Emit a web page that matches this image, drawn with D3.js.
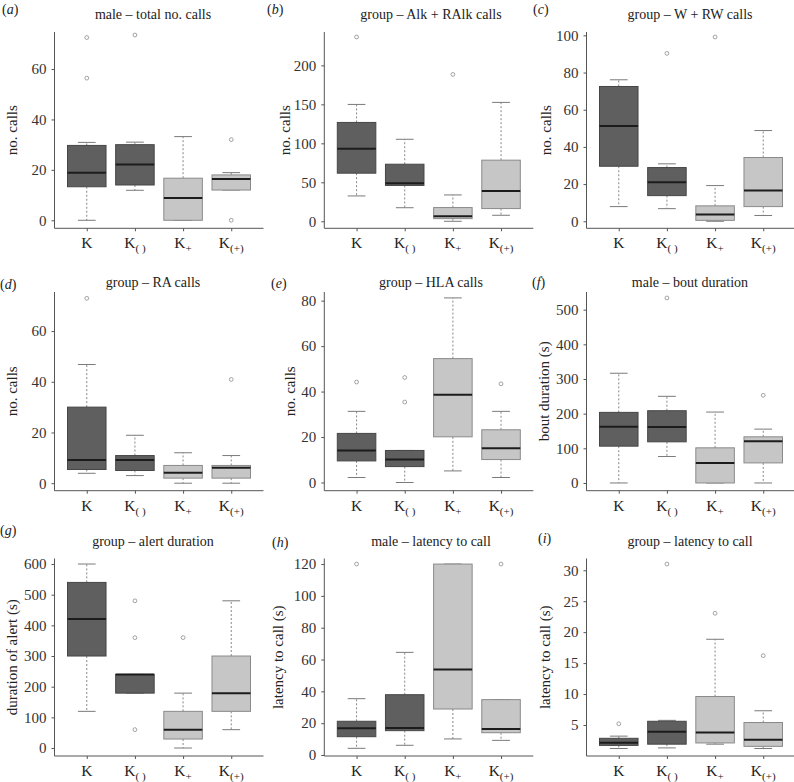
<!DOCTYPE html>
<html><head><meta charset="utf-8">
<script src="https://cdn.jsdelivr.net/npm/d3@7"></script>
</head><body style="margin:0;background:#fff"><svg id="c" width="794" height="782" font-family="Liberation Serif, Tinos, Times New Roman, serif" style="display:block;font-family:'Liberation Serif','Tinos','Times New Roman',serif"></svg>
<script>
// ---------- data ----------
const categories = ["K", "K()", "K+", "K(+)"];
const catBase = ["K", "K", "K", "K"];
const catSub = ["", "( )", "+", "(+)"];

const panelLetters = ["a", "b", "c", "d", "e", "f", "g", "h", "i"];
const panelTitles = [
  "male \u2013 total no. calls", "group \u2013 Alk + RAlk calls", "group \u2013 W + RW calls",
  "group \u2013 RA calls", "group \u2013 HLA calls", "male \u2013 bout duration",
  "group \u2013 alert duration", "male \u2013 latency to call", "group \u2013 latency to call"];
const yAxisLabels = ["no. calls", "no. calls", "no. calls", "no. calls", "no. calls",
  "bout duration (s)", "duration of alert (s)", "latency to call (s)", "latency to call (s)"];
const yTicks = [
  [0, 20, 40, 60], [0, 50, 100, 150, 200], [0, 20, 40, 60, 80, 100],
  [0, 20, 40, 60], [0, 20, 40, 60, 80], [0, 100, 200, 300, 400, 500],
  [0, 100, 200, 300, 400, 500, 600], [0, 20, 40, 60, 80, 100, 120], [5, 10, 15, 20, 25, 30]];
const yDomains = [
  [-3.18, 74.7], [-9.0, 242.8], [-3.77, 101.8],
  [-2.96, 75.4], [-3.6, 83.8], [-22.3, 551],
  [-26, 618], [-0.63, 123.5], [-0.01, 31.9]];

// box stats per category: [lower whisker, Q1, median, Q3, upper whisker]
const statsA = [[0, 13.3, 18.9, 29.7, 30.9], [11.9, 14, 22.1, 30, 31], [0, 0, 8.8, 16.7, 33.2], [12, 12, 16.4, 18, 18.9]];
const outliersA = [[56.4, 72.5], [73.5], [], [32, 0]];
const statsB = [[32.5, 61.7, 92.9, 126.8, 149.9], [17.4, 46, 48.8, 73.2, 105.2], [0, 3.4, 6.4, 17.6, 33.8], [7.7, 16.3, 39, 78.4, 152.5]];
const outliersB = [[236.4], [], [188.4], []];
const statsC = [[7.9, 29.6, 51.2, 72.5, 76.1], [6.8, 13.8, 21, 28.9, 30.9], [0, 0.5, 3.6, 8.3, 19.2], [3.1, 7.9, 16.5, 34.3, 48.8]];
const outliersC = [[], [90.3], [99.1], []];
const statsD = [[3.9, 5.4, 9.1, 30, 46.8], [3, 5, 9.1, 10.9, 18.9], [0, 2, 4.1, 7, 12], [0, 2, 6.1, 7, 10.9]];
const outliersD = [[72.9], [], [], [40.9]];
const statsE = [[2.2, 9.5, 14.1, 21.6, 31.3], [0, 7, 10.1, 14.1, 14.1], [5.1, 20.1, 38.6, 54.5, 81.2], [2.2, 10.1, 15.1, 23.2, 31.3]];
const outliersE = [[44.2], [35.4, 46.2], [], [43.4]];
const statsF = [[0, 106.2, 162.2, 203.7, 316.6], [76.3, 118.7, 161.2, 208.5, 250], [0, 0, 57.9, 101.4, 204.6], [0, 57.9, 120.7, 133.2, 155.4]];
const outliersF = [[], [533.8], [], [252.9]];
const statsG = [[119.6, 300, 420.7, 540, 600], [179, 179, 240, 240, 240], [0, 29.3, 59.8, 119.6, 179], [59.8, 119.6, 179, 300, 480]];
const outliersG = [[], [60, 360, 480], [360], []];
const statsH = [[4.2, 11.5, 16.8, 21.2, 35.4], [6.1, 15.3, 17, 37.9, 64.5], [10.1, 28.9, 53.8, 120, 120], [9.2, 14, 16.3, 34.8, 34.8]];
const outliersH = [[120], [], [], [120]];
const statsI = [[1.2, 1.7, 2.14, 2.85, 3.2], [1.3, 1.9, 3.9, 5.6, 5.75], [1.9, 2.1, 3.8, 9.6, 18.85], [1.2, 1.55, 2.6, 5.4, 7.3]];
const outliersI = [[5.2], [31], [23.05], [16.2]];

const allStats = [statsA, statsB, statsC, statsD, statsE, statsF, statsG, statsH, statsI];
const allOutliers = [outliersA, outliersB, outliersC, outliersD, outliersE, outliersF, outliersG, outliersH, outliersI];

// ---------- style / layout ----------
const boxFills = ["#5f5f5f", "#5f5f5f", "#c6c6c6", "#c6c6c6"];
const boxStrokes = ["#464646", "#464646", "#8a8a8a", "#8a8a8a"];
const FONT_ATTR = "Liberation Serif, Tinos, Times New Roman, serif";
const FONT_CSS = '"Liberation Serif", "Tinos", "Times New Roman", serif';
const colLeft = [54.5, 324.3, 586.5];
const plotW = 209;
const rowTop = [32, 292, 558.5];
const rowBottom = [228.3, 490.7, 756];
const titleCx = [153, 431, 690];
const titleBase = [18.5, 286.7, 545.5];
const letterPos = [[2, 14], [267, 14], [533, 14], [0, 289], [271, 288], [532, 287], [0, 535], [272, 547], [538, 543]];
const yLabOff = [-42.5, -40, -40.3, -42.6, -35, -43, -42.6, -46.6, -42];

const svg = d3.select("#c");
const axisCol = "#555";
function serif(sel) { return sel.attr("font-family", FONT_ATTR).style("font-family", FONT_CSS); }

for (let p = 0; p < 9; p++) {
  const col = p % 3, row = Math.floor(p / 3);
  const L = colLeft[col], R = L + plotW, T = rowTop[row], B = rowBottom[row];
  const x = d3.scalePoint().domain(categories).range([L, R]).padding(0.67);
  const y = d3.scaleLinear().domain(yDomains[p]).range([B, T]);
  const step = x.step();
  const bw = step * 0.8, cw = bw * 0.46;
  const g = svg.append("g");

  // panel letter
  const lt = serif(g.append("text")).attr("x", letterPos[p][0]).attr("y", letterPos[p][1])
    .attr("font-size", 14).attr("fill", "#222");
  lt.append("tspan").text("(");
  lt.append("tspan").attr("font-style", "italic").text(panelLetters[p]);
  lt.append("tspan").text(")");

  // title
  serif(g.append("text")).attr("x", titleCx[col]).attr("y", titleBase[row]).attr("text-anchor", "middle")
    .attr("font-size", 14).attr("fill", "#222").text(panelTitles[p]);

  // y label
  serif(g.append("text")).attr("transform", `translate(${L + yLabOff[p]},${(T + B) / 2}) rotate(-90)`)
    .attr("text-anchor", "middle").attr("dy", "0.35em")
    .attr("font-size", 15).attr("fill", "#222").text(yAxisLabels[p]);

  // y axis
  const ya = g.append("g").attr("transform", `translate(${L},0)`)
    .call(d3.axisLeft(y).tickValues(yTicks[p]).tickSize(3).tickSizeOuter(0).tickPadding(5).tickFormat(d3.format("d")));
  serif(ya).attr("font-size", 15);
  ya.select(".domain").attr("d", `M0,${T}V${B}`).attr("stroke", axisCol);
  ya.selectAll(".tick line").attr("stroke", axisCol);
  serif(ya.selectAll(".tick text")).attr("font-size", 15).attr("fill", "#333");

  // x axis
  const xa = g.append("g").attr("transform", `translate(0,${B})`)
    .call(d3.axisBottom(x).tickSize(3).tickSizeOuter(0).tickFormat(""));
  serif(xa);
  xa.select(".domain").attr("d", `M${L},0H${R}`).attr("stroke", axisCol);
  xa.selectAll(".tick line").attr("stroke", axisCol);
  categories.forEach((c, i) => {
    const t = serif(g.append("text")).attr("x", x(c)).attr("y", B + 20).attr("text-anchor", "middle")
      .attr("font-size", 15.5).attr("fill", "#222");
    t.append("tspan").text(catBase[i]);
    if (catSub[i]) t.append("tspan").attr("font-size", 11).attr("dy", 4).text(catSub[i]);
  });

  // boxes
  const st = allStats[p];
  categories.forEach((c, i) => {
    const [lo, q1, md, q3, hi] = st[i];
    const cx = x(c);
    g.append("line").attr("x1", cx).attr("x2", cx).attr("y1", y(q3)).attr("y2", y(hi))
      .attr("stroke", "#7a7a7a").attr("stroke-dasharray", "2,2").attr("stroke-width", 0.9);
    g.append("line").attr("x1", cx).attr("x2", cx).attr("y1", y(q1)).attr("y2", y(lo))
      .attr("stroke", "#7a7a7a").attr("stroke-dasharray", "2,2").attr("stroke-width", 0.9);
    [lo, hi].forEach(v => {
      g.append("line").attr("x1", cx - cw / 2).attr("x2", cx + cw / 2).attr("y1", y(v)).attr("y2", y(v))
        .attr("stroke", "#7a7a7a").attr("stroke-width", 1);
    });
    g.append("rect").attr("x", cx - bw / 2).attr("width", bw).attr("y", y(q3)).attr("height", Math.max(0.5, y(q1) - y(q3)))
      .attr("fill", boxFills[i]).attr("stroke", boxStrokes[i]).attr("stroke-width", 1);
    g.append("line").attr("x1", cx - bw / 2).attr("x2", cx + bw / 2).attr("y1", y(md)).attr("y2", y(md))
      .attr("stroke", "#1c1c1c").attr("stroke-width", 2);
    allOutliers[p][i].forEach(v => {
      g.append("circle").attr("cx", cx).attr("cy", y(v)).attr("r", 1.9)
        .attr("fill", "none").attr("stroke", "#8c8c8c").attr("stroke-width", 0.8);
    });
  });
}
</script></body></html>
